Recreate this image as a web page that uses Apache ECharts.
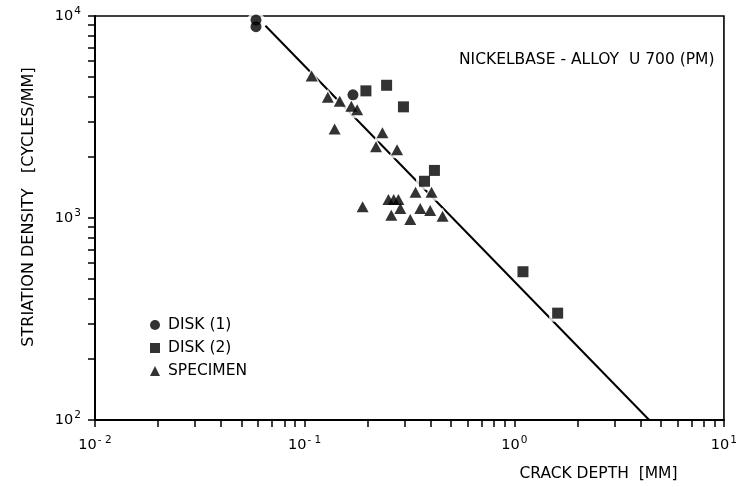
<!DOCTYPE html>
<html><head><meta charset="utf-8">
<script src="https://cdn.jsdelivr.net/npm/echarts@6/dist/echarts.min.js"></script>
<style>html,body{margin:0;padding:0;background:#fff}#c{width:740px;height:487px}</style>
</head><body><div id="c"></div>
<script>
// ---- data ----
const disk1 = [[0.0586, 9550], [0.0586, 8850], [0.170, 4070]];
const disk2 = [[0.196, 4260], [0.246, 4540], [0.296, 3550], [0.416, 1720], [0.373, 1520], [1.10, 542], [1.61, 338]];
const specimen = [[0.108, 5050], [0.129, 3960], [0.147, 3780], [0.167, 3570], [0.178, 3430], [0.139, 2760],
  [0.235, 2640], [0.219, 2250], [0.276, 2180], [0.338, 1340], [0.403, 1340], [0.251, 1234], [0.266, 1234],
  [0.280, 1234], [0.189, 1136], [0.286, 1114], [0.356, 1114], [0.397, 1089], [0.455, 1021], [0.259, 1032], [0.319, 983]];
const fitLine = [[0.065, 8950], [4.40, 100]];
const xDecades = [0.01, 0.1, 1];
const yDecades = [100, 1000];
const tickMultipliers = [1, 2, 3, 4, 5, 6, 7, 8, 9];
const legendNames = ['DISK (1)', 'DISK (2)', 'SPECIMEN'];
const titleText = 'NICKELBASE - ALLOY  U 700 (PM)';
const xName = 'CRACK DEPTH  [MM]';
const yName = 'STRIATION DENSITY   [CYCLES/MM]';

const FONT = '"DejaVu Sans", "Liberation Sans", sans-serif';
const INK = '#000';
const xTicks = xDecades.flatMap(d => tickMultipliers.map(m => m * d)).concat([10]);
const yTicks = yDecades.flatMap(d => tickMultipliers.map(m => m * d)).concat([10000]);

function powLabel(v) {
  const e = Math.round(Math.log10(v));
  return '10{s|' + (e < 0 ? '- ' + (-e) : e) + '}';
}
const labelRich = { s: { fontSize: 10.5, fontFamily: FONT, color: INK, verticalAlign: 'top', padding: [0, 0, 9, 1] } };

const chart = echarts.init(document.getElementById('c'), null, { renderer: 'canvas' });
chart.setOption({
  backgroundColor: '#fff',
  animation: false,
  grid: { left: 95, right: 13, top: 16, bottom: 66, show: true, borderColor: INK, borderWidth: 1.6, backgroundColor: 'transparent' },
  title: [{ text: titleText, left: 454, top: 47, textStyle: { fontFamily: FONT, fontSize: 15.5, fontWeight: 'normal', color: INK } }],
  legend: {
    data: legendNames, orient: 'vertical', left: 145, top: 312, itemWidth: 10, itemHeight: 10, itemGap: 7,
    textStyle: { fontFamily: FONT, fontSize: 15.5, color: INK, lineHeight: 15, padding: [0, 0, 0, 3] }
  },
  xAxis: {
    type: 'log', logBase: 10, min: 0.01, max: 10,
    name: xName, nameLocation: 'middle', nameGap: 46,
    nameTextStyle: { fontFamily: FONT, fontSize: 15.5, color: INK, padding: [0, 0, 0, 378] },
    axisLine: { show: true, lineStyle: { color: INK, width: 2 } },
    axisTick: { show: true, inside: false, length: 7, customValues: xTicks, lineStyle: { color: INK, width: 1.5 } },
    axisLabel: { formatter: powLabel, rich: labelRich, fontFamily: FONT, fontSize: 14.5, color: INK, margin: 15 },
    splitLine: { show: false }, minorTick: { show: false }
  },
  yAxis: {
    type: 'log', logBase: 10, min: 100, max: 10000,
    name: yName, nameLocation: 'middle', nameGap: 58,
    nameTextStyle: { fontFamily: FONT, fontSize: 16, color: INK, padding: [0, 0, 0, 22] },
    axisLine: { show: true, lineStyle: { color: INK, width: 2 } },
    axisTick: { show: true, inside: false, length: 7, customValues: yTicks, lineStyle: { color: INK, width: 1.5 } },
    axisLabel: { formatter: powLabel, rich: labelRich, fontFamily: FONT, fontSize: 14.5, color: INK, margin: 14 },
    splitLine: { show: false }, minorTick: { show: false }
  },
  series: [
    { type: 'line', data: fitLine, symbol: 'none', lineStyle: { color: INK, width: 2 }, z: 1, silent: true, legendHoverLink: false },
    { type: 'scatter', data: disk1, symbol: 'circle', symbolSize: 17, itemStyle: { color: '#fff' }, z: 2, silent: true },
    { type: 'scatter', data: disk2, symbol: 'rect', symbolSize: 17, itemStyle: { color: '#fff' }, z: 2, silent: true },
    { type: 'scatter', data: specimen, symbol: 'triangle', symbolSize: [18, 17], itemStyle: { color: '#fff' }, z: 2, silent: true },
    { name: 'DISK (1)', type: 'scatter', data: disk1, symbol: 'circle', symbolSize: 11, itemStyle: { color: INK }, z: 3 },
    { name: 'DISK (2)', type: 'scatter', data: disk2, symbol: 'rect', symbolSize: 11, itemStyle: { color: INK }, z: 3 },
    { name: 'SPECIMEN', type: 'scatter', data: specimen, symbol: 'triangle', symbolSize: [12, 11], itemStyle: { color: INK }, z: 3 }
  ]
});
</script></body></html>
